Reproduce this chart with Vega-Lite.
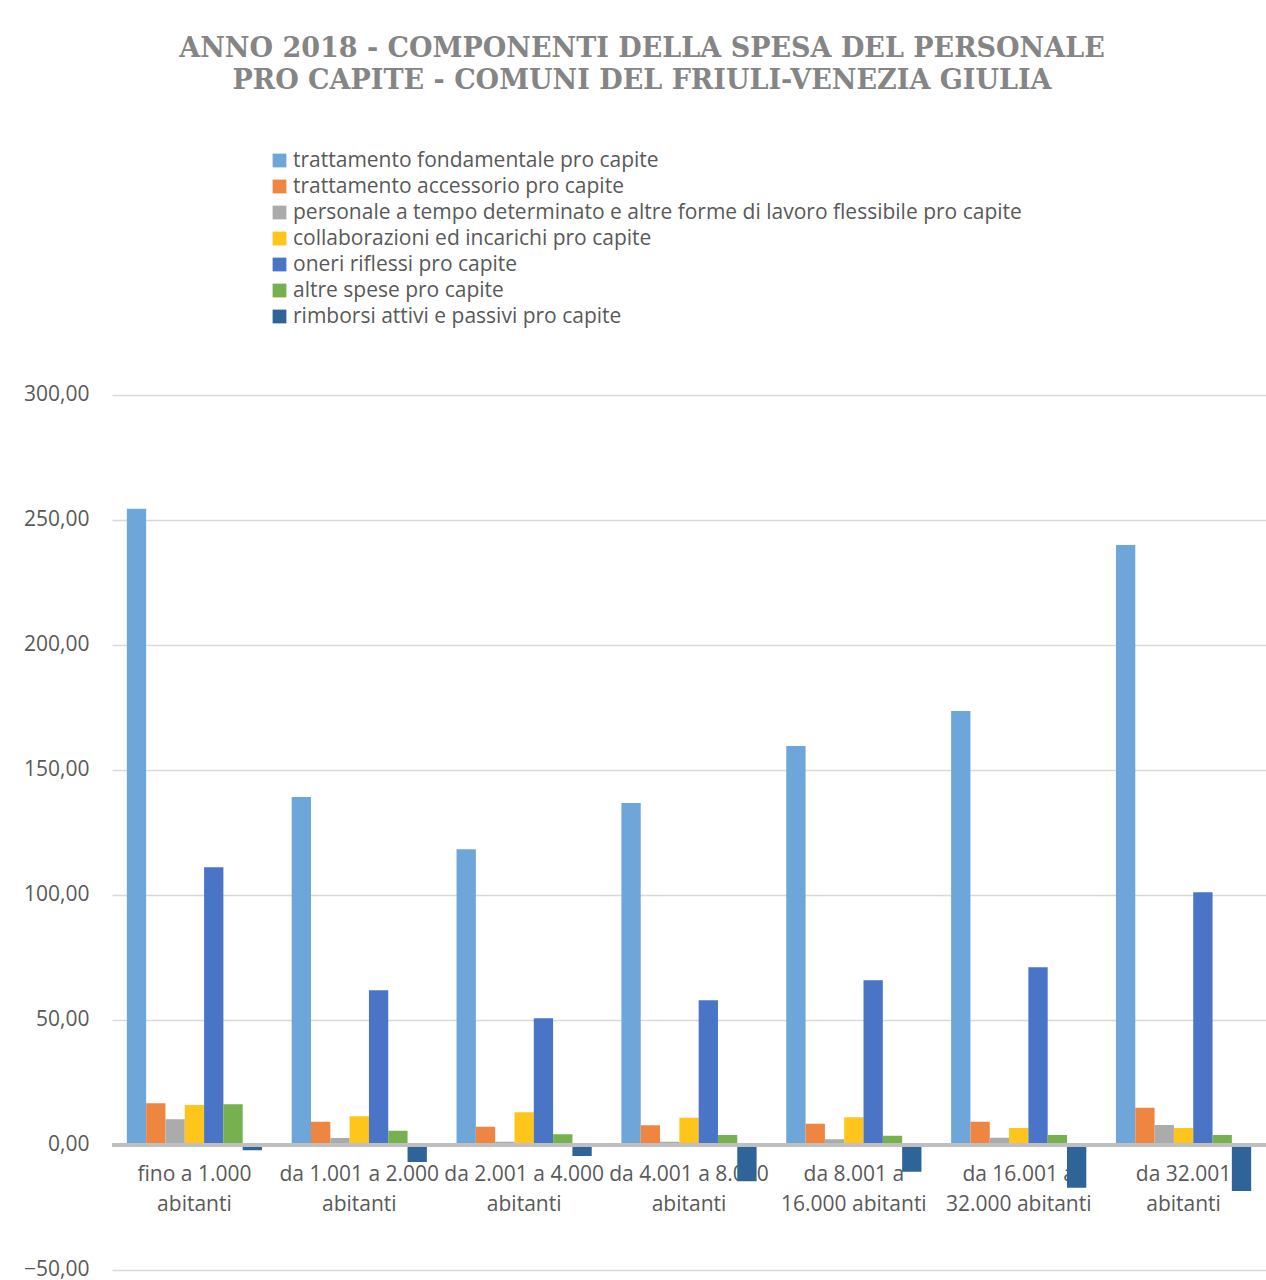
{
  "$schema": "https://vega.github.io/schema/vega-lite/v6.json",
  "autosize": {"type": "none"},
  "padding": {"left": 112, "top": 395, "right": 0, "bottom": 10},
  "width": 1154,
  "height": 875,
  "background": "white",
  "title": {
    "text": ["ANNO 2018 - COMPONENTI DELLA SPESA DEL PERSONALE", "PRO CAPITE - COMUNI DEL FRIULI-VENEZIA GIULIA"],
    "anchor": "middle",
    "dx": -47,
    "offset": 55,
    "font": "DejaVu Serif",
    "fontSize": 27,
    "fontWeight": "bold",
    "color": "#858585",
    "lineHeight": 32
  },
  "config": {
    "locale": {"number": {"decimal": ",", "thousands": ".", "grouping": [3], "currency": ["€", ""]}},
    "view": {"stroke": null},
    "axis": {"labelFont": "Open Sans", "labelFontSize": 21, "labelColor": "#595959"},
    "legend": {"labelFont": "Open Sans", "labelFontSize": 21, "labelColor": "#595959"}
  },
  "data": {
    "values": [
      {"fascia": "fino a 1.000 abitanti", "componente": "trattamento fondamentale pro capite", "valore": 254.5},
      {"fascia": "fino a 1.000 abitanti", "componente": "trattamento accessorio pro capite", "valore": 16.7},
      {"fascia": "fino a 1.000 abitanti", "componente": "personale a tempo determinato e altre forme di lavoro flessibile pro capite", "valore": 10.3},
      {"fascia": "fino a 1.000 abitanti", "componente": "collaborazioni ed incarichi pro capite", "valore": 16.0},
      {"fascia": "fino a 1.000 abitanti", "componente": "oneri riflessi pro capite", "valore": 111.1},
      {"fascia": "fino a 1.000 abitanti", "componente": "altre spese pro capite", "valore": 16.3},
      {"fascia": "fino a 1.000 abitanti", "componente": "rimborsi attivi e passivi pro capite", "valore": -2.1},
      {"fascia": "da 1.001 a 2.000 abitanti", "componente": "trattamento fondamentale pro capite", "valore": 139.2},
      {"fascia": "da 1.001 a 2.000 abitanti", "componente": "trattamento accessorio pro capite", "valore": 9.3},
      {"fascia": "da 1.001 a 2.000 abitanti", "componente": "personale a tempo determinato e altre forme di lavoro flessibile pro capite", "valore": 2.8},
      {"fascia": "da 1.001 a 2.000 abitanti", "componente": "collaborazioni ed incarichi pro capite", "valore": 11.5},
      {"fascia": "da 1.001 a 2.000 abitanti", "componente": "oneri riflessi pro capite", "valore": 61.9},
      {"fascia": "da 1.001 a 2.000 abitanti", "componente": "altre spese pro capite", "valore": 5.7},
      {"fascia": "da 1.001 a 2.000 abitanti", "componente": "rimborsi attivi e passivi pro capite", "valore": -6.8},
      {"fascia": "da 2.001 a 4.000 abitanti", "componente": "trattamento fondamentale pro capite", "valore": 118.3},
      {"fascia": "da 2.001 a 4.000 abitanti", "componente": "trattamento accessorio pro capite", "valore": 7.3},
      {"fascia": "da 2.001 a 4.000 abitanti", "componente": "personale a tempo determinato e altre forme di lavoro flessibile pro capite", "valore": 1.3},
      {"fascia": "da 2.001 a 4.000 abitanti", "componente": "collaborazioni ed incarichi pro capite", "valore": 13.1},
      {"fascia": "da 2.001 a 4.000 abitanti", "componente": "oneri riflessi pro capite", "valore": 50.7},
      {"fascia": "da 2.001 a 4.000 abitanti", "componente": "altre spese pro capite", "valore": 4.3},
      {"fascia": "da 2.001 a 4.000 abitanti", "componente": "rimborsi attivi e passivi pro capite", "valore": -4.4},
      {"fascia": "da 4.001 a 8.000 abitanti", "componente": "trattamento fondamentale pro capite", "valore": 136.8},
      {"fascia": "da 4.001 a 8.000 abitanti", "componente": "trattamento accessorio pro capite", "valore": 7.9},
      {"fascia": "da 4.001 a 8.000 abitanti", "componente": "personale a tempo determinato e altre forme di lavoro flessibile pro capite", "valore": 1.3},
      {"fascia": "da 4.001 a 8.000 abitanti", "componente": "collaborazioni ed incarichi pro capite", "valore": 10.9},
      {"fascia": "da 4.001 a 8.000 abitanti", "componente": "oneri riflessi pro capite", "valore": 57.9},
      {"fascia": "da 4.001 a 8.000 abitanti", "componente": "altre spese pro capite", "valore": 4.0},
      {"fascia": "da 4.001 a 8.000 abitanti", "componente": "rimborsi attivi e passivi pro capite", "valore": -14.5},
      {"fascia": "da 8.001 a 16.000 abitanti", "componente": "trattamento fondamentale pro capite", "valore": 159.6},
      {"fascia": "da 8.001 a 16.000 abitanti", "componente": "trattamento accessorio pro capite", "valore": 8.5},
      {"fascia": "da 8.001 a 16.000 abitanti", "componente": "personale a tempo determinato e altre forme di lavoro flessibile pro capite", "valore": 2.3},
      {"fascia": "da 8.001 a 16.000 abitanti", "componente": "collaborazioni ed incarichi pro capite", "valore": 11.1},
      {"fascia": "da 8.001 a 16.000 abitanti", "componente": "oneri riflessi pro capite", "valore": 65.9},
      {"fascia": "da 8.001 a 16.000 abitanti", "componente": "altre spese pro capite", "valore": 3.7},
      {"fascia": "da 8.001 a 16.000 abitanti", "componente": "rimborsi attivi e passivi pro capite", "valore": -10.7},
      {"fascia": "da 16.001 a 32.000 abitanti", "componente": "trattamento fondamentale pro capite", "valore": 173.6},
      {"fascia": "da 16.001 a 32.000 abitanti", "componente": "trattamento accessorio pro capite", "valore": 9.3},
      {"fascia": "da 16.001 a 32.000 abitanti", "componente": "personale a tempo determinato e altre forme di lavoro flessibile pro capite", "valore": 2.9},
      {"fascia": "da 16.001 a 32.000 abitanti", "componente": "collaborazioni ed incarichi pro capite", "valore": 6.8},
      {"fascia": "da 16.001 a 32.000 abitanti", "componente": "oneri riflessi pro capite", "valore": 71.1},
      {"fascia": "da 16.001 a 32.000 abitanti", "componente": "altre spese pro capite", "valore": 4.0},
      {"fascia": "da 16.001 a 32.000 abitanti", "componente": "rimborsi attivi e passivi pro capite", "valore": -17.1},
      {"fascia": "da 32.001 abitanti", "componente": "trattamento fondamentale pro capite", "valore": 240.0},
      {"fascia": "da 32.001 abitanti", "componente": "trattamento accessorio pro capite", "valore": 14.9},
      {"fascia": "da 32.001 abitanti", "componente": "personale a tempo determinato e altre forme di lavoro flessibile pro capite", "valore": 8.0},
      {"fascia": "da 32.001 abitanti", "componente": "collaborazioni ed incarichi pro capite", "valore": 6.8},
      {"fascia": "da 32.001 abitanti", "componente": "oneri riflessi pro capite", "valore": 101.1},
      {"fascia": "da 32.001 abitanti", "componente": "altre spese pro capite", "valore": 4.0},
      {"fascia": "da 32.001 abitanti", "componente": "rimborsi attivi e passivi pro capite", "valore": -18.4}
    ]
  },
  "layer": [
    {
      "mark": {"type": "bar"},
      "encoding": {
        "x": {
          "field": "fascia",
          "type": "nominal",
          "sort": null,
          "title": null,
          "scale": {"paddingInner": 0.18, "paddingOuter": 0.09},
          "axis": {
            "domain": false,
            "ticks": false,
            "grid": false,
            "labelAngle": 0,
            "offset": -125,
            "labelPadding": 18,
            "labelLineHeight": 30,
            "labelLimit": 300,
            "labelExpr": "indexof(datum.value, 'a 16.000') > 0 || indexof(datum.value, 'a 32.000') > 0 ? [slice(datum.value, 0, lastindexof(slice(datum.value, 0, lastindexof(datum.value, ' ')), ' ')), slice(datum.value, lastindexof(slice(datum.value, 0, lastindexof(datum.value, ' ')), ' ') + 1)] : [replace(datum.value, ' abitanti', ''), 'abitanti']"
          }
        },
        "xOffset": {
          "field": "componente",
          "type": "nominal",
          "sort": ["trattamento fondamentale pro capite", "trattamento accessorio pro capite", "personale a tempo determinato e altre forme di lavoro flessibile pro capite", "collaborazioni ed incarichi pro capite", "oneri riflessi pro capite", "altre spese pro capite", "rimborsi attivi e passivi pro capite"],
          "scale": {"paddingInner": 0, "paddingOuter": 0}
        },
        "y": {
          "field": "valore",
          "type": "quantitative",
          "title": null,
          "scale": {"domain": [-50, 300], "nice": false},
          "axis": {
            "values": [-50, 0, 50, 100, 150, 200, 250, 300],
            "format": ".2f",
            "domain": false,
            "ticks": false,
            "labelPadding": 23,
            "labelOffset": -1,
            "gridColor": "#d9d9d9",
            "gridWidth": 1.5
          }
        },
        "color": {
          "field": "componente",
          "type": "nominal",
          "sort": ["trattamento fondamentale pro capite", "trattamento accessorio pro capite", "personale a tempo determinato e altre forme di lavoro flessibile pro capite", "collaborazioni ed incarichi pro capite", "oneri riflessi pro capite", "altre spese pro capite", "rimborsi attivi e passivi pro capite"],
          "scale": {
            "domain": ["trattamento fondamentale pro capite", "trattamento accessorio pro capite", "personale a tempo determinato e altre forme di lavoro flessibile pro capite", "collaborazioni ed incarichi pro capite", "oneri riflessi pro capite", "altre spese pro capite", "rimborsi attivi e passivi pro capite"],
            "range": ["#6ea6da", "#ee8540", "#ababab", "#ffc51a", "#4a74c6", "#77b04e", "#2e6497"]
          },
          "legend": {
            "title": null,
            "orient": "none",
            "legendX": 157,
            "legendY": -245,
            "symbolType": "square",
            "symbolSize": 190,
            "symbolStrokeWidth": 0,
            "rowPadding": 4,
            "labelOffset": 3,
            "labelLimit": 900
          }
        }
      }
    },
    {
      "mark": {"type": "rule", "color": "#bfbfbf", "strokeWidth": 3},
      "encoding": {"y": {"datum": 0}}
    }
  ]
}
